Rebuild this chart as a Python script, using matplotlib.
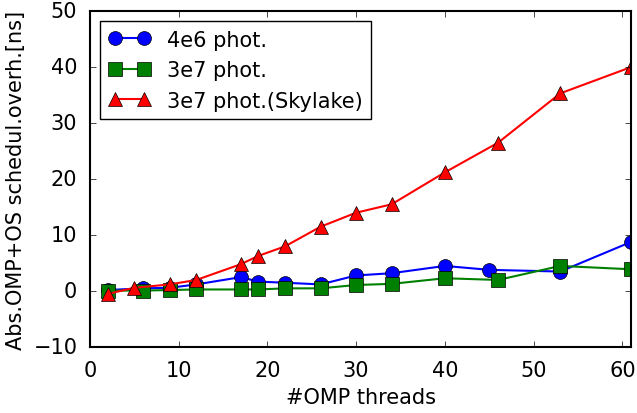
import matplotlib
matplotlib.use("Agg")
import matplotlib.pyplot as plt

plt.style.use('classic')

# threads
x_4e6 = [2, 6, 9, 12, 17, 19, 22, 26, 30, 34, 40, 45, 53, 61]
y_4e6 = [0.2, 0.5, 0.6, 1.2, 2.5, 1.7, 1.5, 1.2, 2.8, 3.2, 4.5, 3.8, 3.5, 8.8]

x_3e7 = [2, 6, 9, 12, 17, 19, 22, 26, 30, 34, 40, 46, 53, 61]
y_3e7 = [0.1, 0.1, 0.2, 0.3, 0.3, 0.3, 0.5, 0.5, 1.1, 1.3, 2.3, 2.0, 4.5, 3.9]

x_sky = [2, 5, 9, 12, 17, 19, 22, 26, 30, 34, 40, 46, 53, 61]
y_sky = [-0.5, 0.6, 1.2, 2.0, 4.8, 6.3, 8.0, 11.5, 14.0, 15.5, 21.2, 26.5, 35.3, 40.0]

fig = plt.figure(figsize=(6.37, 4.14), dpi=100, facecolor='white')
ax = fig.add_axes([0.141, 0.159, 0.85, 0.812])

ax.plot(x_4e6, y_4e6, 'b-o', lw=1.5, ms=10, label='4e6 phot.')
ax.plot(x_3e7, y_3e7, 'g-s', lw=1.5, ms=10, label='3e7 phot.')
ax.plot(x_sky, y_sky, 'r-^', lw=1.5, ms=10, label='3e7 phot.(Skylake)')

ax.set_xlim(0, 61)
ax.set_ylim(-10, 50)
ax.set_xlabel('#OMP threads', fontsize=15)
ax.set_ylabel('Abs.OMP+OS schedul.overh.[ns]', fontsize=15)
ax.tick_params(labelsize=15, pad=9)
for s in ax.spines.values():
    s.set_linewidth(1.5)
ax.legend(loc='upper left', fontsize=15)

fig.savefig('out.png', dpi=100, facecolor='white')
